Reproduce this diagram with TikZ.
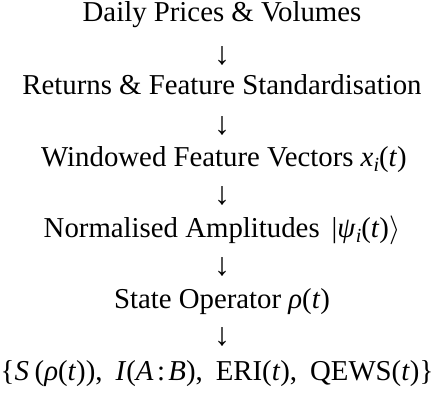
\documentclass[tikz,border=0pt]{standalone}
\usepackage{mathptmx}
\usepackage{fontspec}
\setmainfont{Liberation Serif}
\newcommand\lowi[1]{\raisebox{-0.2em}{\fontsize{20}{20}\selectfont\itshape #1}}
\newcommand\vv[1]{\textit{#1}}
\begin{document}
\begin{tikzpicture}[x=1pt,y=1pt,
  lbl/.style={inner sep=0pt, anchor=base, font=\fontsize{28.8}{34}\selectfont},
  arr/.style={inner sep=0pt, anchor=center, font=\fontsize{32}{36}\selectfont}]
\useasboundingbox (0,0) rectangle (435,-396);
\node[lbl] (n1) at (222,-22) {Daily Prices \& Volumes};
\node[arr] (a1) at (222,-56) {↓};
\node[lbl] (n2) at (222,-94.5) {Returns \& Feature Standardisation};
\node[arr] (a2) at (222,-125.5) {↓};
\node[lbl] (n3) at (224,-166) {Windowed Feature Vectors \vv{x}\lowi{i}(\vv{t})};
\node[arr] (a3) at (222,-195.5) {↓};
\node[lbl] (n4) at (222,-237) {Normalised Amplitudes \,|\vv{ψ}\lowi{i}(\vv{t})$\rangle$};
\node[arr] (a4) at (222,-266.5) {↓};
\node[lbl] (n5) at (222,-308) {State Operator \vv{ρ}(\vv{t})};
\node[arr] (a5) at (222,-336.5) {↓};
\node[lbl] (n6) at (217,-380) {\{\vv{S}\hspace{0.2em}(\vv{ρ}(\vv{t})),\hspace{0.45em}\vv{I}(\vv{A}\hspace{0.12em}:\hspace{0.12em}\vv{B}),\hspace{0.45em}ERI(\vv{t}),\hspace{0.45em}QEWS(\vv{t})\}};
\end{tikzpicture}
\end{document}
